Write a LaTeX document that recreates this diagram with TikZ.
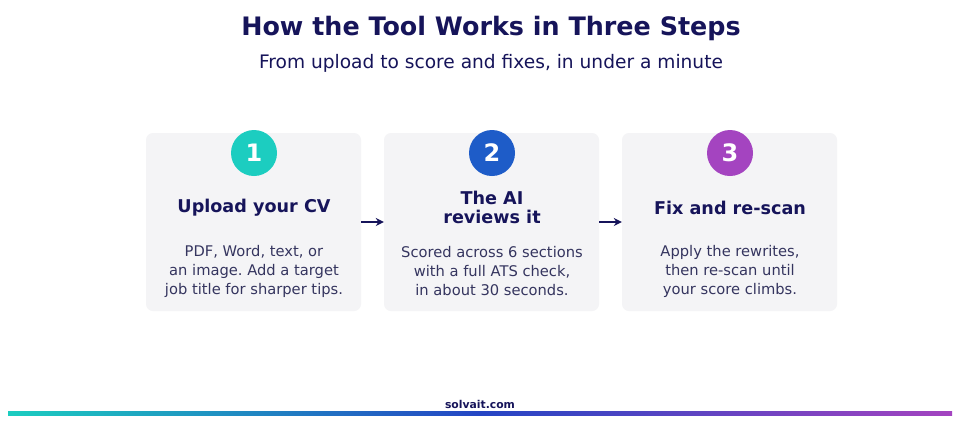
\documentclass[tikz,border=0pt]{standalone}
\usepackage{fontspec}
\setmainfont{DejaVu Sans}
\usepackage{tikz}
\usetikzlibrary{positioning, arrows.meta}
\definecolor{marinho}{HTML}{16145A}
\definecolor{textocorpo}{HTML}{35355F}
\definecolor{fundocaixa}{HTML}{F4F4F6}
\definecolor{verdeazul}{HTML}{1CCDC0}
\definecolor{azulforte}{HTML}{1E5CC8}
\definecolor{azulbarra}{HTML}{2445C4}
\definecolor{roxo}{HTML}{A444C0}
\frenchspacing

\begin{document}
\begin{tikzpicture}[
    x=1pt, y=-1pt,
    stepbox/.style={
        rectangle, rounded corners=7pt,
        fill=fundocaixa, draw=none,
        minimum width=215pt, minimum height=178pt
    },
    numcirc/.style={
        circle, minimum size=46pt, inner sep=0pt,
        text=white, font=\fontsize{24}{24}\selectfont\bfseries
    },
    heading/.style={
        align=center, text=marinho,
        font=\fontsize{17.6}{19}\selectfont\bfseries
    },
    bodytext/.style={
        align=center, text=textocorpo,
        font=\fontsize{14.7}{19}\selectfont
    },
    seta/.style={-{Stealth[length=8pt,width=8pt]}, line width=1.6pt, color=marinho}
]
\useasboundingbox (0,0) rectangle (960,424);
\fill[white] (0,0) rectangle (960,424);

% title
\node[text=marinho, font=\fontsize{25.4}{28}\selectfont\bfseries] (title) at (491,28) {How the Tool Works in Three Steps};
\node[text=marinho, font=\fontsize{18.6}{22}\selectfont] (subtitle) at (491,63) {From upload to score and fixes, in under a minute};

% steps
\node[stepbox] (box1) at (253.5,222) {};
\node[stepbox] (box2) at (491.5,222) {};
\node[stepbox] (box3) at (729.5,222) {};

\node[numcirc, fill=verdeazul] (num1) at (254,153) {1};
\node[numcirc, fill=azulforte] (num2) at (492,153) {2};
\node[numcirc, fill=roxo] (num3) at (730,153) {3};

\node[heading] (head1) at (254,208) {Upload your CV};
\node[heading] (head2) at (492,207) {The AI\\reviews it};
\node[heading] (head3) at (730,208) {Fix and re-scan};

\node[bodytext] (body1) at (254,271) {PDF, Word, text, or\\an image. Add a target\\job title for sharper tips.};
\node[bodytext] (body2) at (492,271) {Scored across 6 sections\\with a full ATS check,\\in about 30 seconds.};
\node[bodytext] (body3) at (730,271) {Apply the rewrites,\\then re-scan until\\your score climbs.};

\draw[seta] (box1.east |- 0,222) -- (box2.west |- 0,222);
\draw[seta] (box2.east |- 0,222) -- (box3.west |- 0,222);

% footer
\node[text=marinho, font=\fontsize{10.8}{12}\selectfont\bfseries] (site) at (480,404) {solvait.com};
\shade[left color=verdeazul, right color=azulbarra] (8,411) rectangle (480.5,415);
\shade[left color=azulbarra, right color=roxo] (480,411) rectangle (952,415);
\end{tikzpicture}
\end{document}
